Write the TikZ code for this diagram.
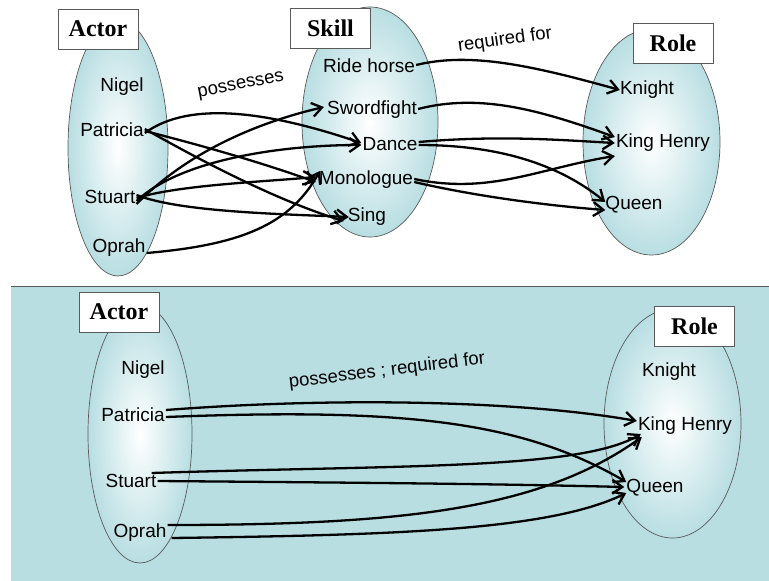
\documentclass[tikz,border=0pt]{standalone}
\usepackage{fontspec}
\setmainfont{Liberation Sans}
\newfontfamily\titlefont{Liberation Serif}
\usetikzlibrary{arrows.meta}
\definecolor{paleblue}{RGB}{184,222,226}
\definecolor{rimgray}{RGB}{90,90,90}
\begin{document}
\begin{tikzpicture}[x=1pt,y=-1pt,
  setshape/.style={draw=rimgray,line width=0.7pt,inner color=white,outer color=paleblue},
  title/.style={draw=rimgray,line width=0.7pt,fill=white,minimum width=80pt,minimum height=40pt,
    inner sep=0pt,font=\titlefont\bfseries\fontsize{24}{26}\selectfont},
  item/.style={inner sep=1pt,yshift=-2pt,font=\fontsize{19}{21}\selectfont},
  lab/.style={inner sep=0pt,font=\fontsize{18.5}{20}\selectfont},
  rel/.style={line width=2.3pt,-{Straight Barb[length=10pt,width=14pt,line width=2.3pt]}}]
\useasboundingbox (0,0) rectangle (769,581);

% lower panel background
\fill[paleblue] (11,286) rectangle (769,581);
\draw[rimgray,line width=1pt] (11,286) -- (769,286);

% ---------- upper diagram: Actor / Skill / Role ----------
\path[setshape] (118,148) ellipse [x radius=50,y radius=128];
\path[setshape] (370,122) ellipse [x radius=68,y radius=115];
\path[setshape] (651.5,142) ellipse [x radius=68.5,y radius=113];
\node[title] (actorA) at (98,29) {Actor};
\node[title] (skillA) at (330.5,28) {Skill};
\node[title] (roleA) at (673,43.5) {Role};

\node[item] (nigA) at (122,85) {Nigel};
\node[item] (patA) at (112,128) {Patricia};
\node[item] (stuA) at (110,195) {Stuart};
\node[item] (opA) at (119,246) {Oprah};

\node[item] (ride) at (369,64) {Ride horse};
\node[item] (sword) at (372,108) {Swordfight};
\node[item] (dance) at (390,142) {Dance};
\node[item] (mono) at (366,178) {Monologue};
\node[item] (sing) at (367,215) {Sing};

\node[item] (knA) at (647,88) {Knight};
\node[item] (khA) at (663,141) {King Henry};
\node[item] (quA) at (634,203) {Queen};

\node[lab,rotate=11] (poss) at (241,86) {possesses};
\node[lab,rotate=8] (req) at (505,40) {required for};

% actor -> skill
\draw[rel] ([yshift=-3pt]patA.east) .. controls (190,100) and (270,112) .. ([yshift=1pt]dance.west);
\draw[rel] ([yshift=-1pt]patA.east) .. controls (200,145) and (260,162) .. ([xshift=-2pt,yshift=-2pt]mono.west);
\draw[rel] ([yshift=1pt]patA.east) .. controls (200,160) and (275,200) .. ([xshift=-3pt,yshift=-4pt]sing.west);
\draw[rel] ([yshift=-7pt]stuA.east) .. controls (190,150) and (260,122) .. ([xshift=-2pt,yshift=3pt]sword.west);
\draw[rel] ([yshift=-4pt]stuA.east) .. controls (180,160) and (280,145) .. ([yshift=-1pt]dance.west);
\draw[rel] ([yshift=-1pt]stuA.east) .. controls (180,185) and (260,182) .. ([xshift=-2pt,yshift=3pt]mono.west);
\draw[rel] ([yshift=2pt]stuA.east) .. controls (180,212) and (280,214) .. ([xshift=2pt]sing.west);
\draw[rel] ([yshift=-5pt]opA.east) .. controls (240,245) and (290,225) .. ([xshift=2pt,yshift=9pt]mono.west);

% skill -> role
\draw[rel] ([yshift=1pt]ride.east) .. controls (470,52) and (530,65) .. ([xshift=1pt]knA.west);
\draw[rel] ([yshift=1pt]sword.east) .. controls (480,93) and (540,110) .. ([yshift=6pt]khA.west);
\draw[rel] ([yshift=2pt]dance.east) .. controls (500,135) and (560,140) .. ([yshift=0pt]khA.west);
\draw[rel] ([yshift=-1pt]dance.east) .. controls (500,145) and (560,165) .. ([xshift=1pt,yshift=3pt]quA.west);
\draw[rel] ([yshift=1pt]mono.east) .. controls (490,195) and (540,168) .. ([yshift=-13pt]khA.west);
\draw[rel] ([yshift=-2pt]mono.east) .. controls (470,195) and (540,205) .. ([xshift=1pt,yshift=-5pt]quA.west);

% ---------- lower diagram: Actor / Role ----------
\path[setshape] (140,434) ellipse [x radius=52,y radius=129];
\path[setshape] (672.5,423.5) ellipse [x radius=68.5,y radius=114.5];
\node[title] (actorB) at (119,312) {Actor};
\node[title] (roleB) at (694.5,326.5) {Role};

\node[item] (nigB) at (143,368) {Nigel};
\node[item] (patB) at (133,413) {Patricia};
\node[item] (stuB) at (131,479) {Stuart};
\node[item] (opB) at (140,531) {Oprah};

\node[item] (knB) at (669,370) {Knight};
\node[item] (khB) at (685,424) {King Henry};
\node[item] (quB) at (655,486) {Queen};

\node[lab,rotate=7] (possreq) at (387,371) {possesses ; required for};

\draw[rel] ([yshift=5pt]patB.east) .. controls (350,396) and (530,402) .. ([yshift=5pt]khB.west);
\draw[rel] ([yshift=-2pt]patB.east) .. controls (400,408) and (520,420) .. ([xshift=1pt,yshift=6pt]quB.west);
\draw[rel] ([xshift=-6pt,yshift=8pt]stuB.east) .. controls (400,465) and (580,470) .. ([xshift=4pt,yshift=-8pt]khB.west);
\draw[rel] ([yshift=0pt]stuB.east) .. controls (400,483) and (500,484) .. ([xshift=-1pt,yshift=1pt]quB.west);
\draw[rel] ([xshift=0pt,yshift=8pt]opB.east) .. controls (400,525) and (540,510) .. ([xshift=5pt,yshift=-11pt]khB.west);
\draw[rel] ([xshift=4pt,yshift=-5pt]opB.east) .. controls (400,535) and (550,530) .. ([xshift=1pt,yshift=-5pt]quB.west);
\end{tikzpicture}
\end{document}
